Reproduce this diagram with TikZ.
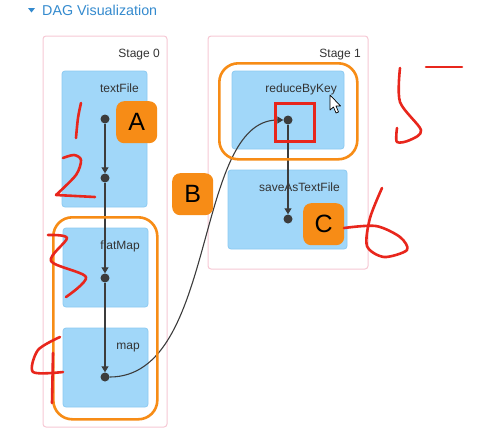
\documentclass[tikz,border=0pt]{standalone}
\usepackage{fontspec}
\setmainfont{Liberation Sans}
\usetikzlibrary{arrows.meta}
\definecolor{boxblue}{RGB}{161,215,249}
\definecolor{boxedge}{RGB}{140,202,242}
\definecolor{stagepink}{RGB}{246,200,212}
\definecolor{orng}{RGB}{247,140,22}
\definecolor{redpen}{RGB}{232,38,28}
\definecolor{titleblue}{RGB}{52,138,206}
\definecolor{edgegray}{RGB}{60,60,60}
\tikzset{
  stagebox/.style={draw=stagepink, fill=white, line width=1pt, rounded corners=3pt, anchor=north west, inner sep=0pt, outer sep=0pt},
  opbox/.style={draw=boxedge, fill=boxblue, line width=0.8pt, rounded corners=3pt, anchor=north west, inner sep=0pt, outer sep=0pt},
  lbl/.style={anchor=base east, font=\fontsize{12}{14}\selectfont, text=black!80, inner sep=0pt},
  dot/.style={circle, fill=edgegray, draw=none, minimum size=9pt, inner sep=0pt},
  edge/.style={draw=edgegray, line width=1.1pt, -{Triangle[length=6pt,width=7pt]}},
  hilite/.style={draw=orng, line width=2.6pt, rounded corners=19pt, anchor=north west, inner sep=0pt},
  tag/.style={fill=orng, rounded corners=8pt, anchor=north west, inner sep=0pt, minimum width=41pt, minimum height=42pt, font=\fontsize{25}{28}\selectfont, text=black},
  pen/.style={draw=redpen, line width=2.6pt, line cap=round, line join=round}
}
\begin{document}
\begin{tikzpicture}[x=1pt, y=-1pt]
\useasboundingbox (0,0) rectangle (502,439);
% title
\fill[titleblue] (28,8) -- (35,8) -- (31.5,12.5) -- cycle;
\node[anchor=base west, inner sep=0pt, text=titleblue, font=\fontsize{14.3}{16}\selectfont] (title) at (42,15.5) {DAG Visualization};
% stages
\node[stagebox, minimum width=124pt, minimum height=391pt] (s0) at (43,36) {};
\node[stagebox, minimum width=160pt, minimum height=233pt] (s1) at (208,36) {};
\node[lbl] (s0l) at ([shift={(-7,21)}]s0.north east) {Stage 0};
\node[lbl] (s1l) at ([shift={(-7,21)}]s1.north east) {Stage 1};
% operation boxes
\node[opbox, minimum width=85pt, minimum height=136pt] (tf) at (62,71) {};
\node[opbox, minimum width=85pt, minimum height=79pt] (fm) at (63,228) {};
\node[opbox, minimum width=85pt, minimum height=79pt] (mp) at (63,328) {};
\node[opbox, minimum width=112pt, minimum height=78pt] (rk) at (232,71) {};
\node[opbox, minimum width=119pt, minimum height=79pt] (sv) at (228,170) {};
\node[lbl] (tfl) at ([shift={(-8,21)}]tf.north east) {textFile};
\node[lbl] (fml) at ([shift={(-8,21)}]fm.north east) {flatMap};
\node[lbl] (mpl) at ([shift={(-8,21)}]mp.north east) {map};
\node[lbl] (rkl) at ([shift={(-7,21)}]rk.north east) {reduceByKey};
\node[lbl] (svl) at ([shift={(-7,21)}]sv.north east) {saveAsTextFile};
% dots
\node[dot] (d1) at (105,119) {};
\node[dot] (d2) at (105,178) {};
\node[dot] (d3) at (105,278) {};
\node[dot] (d4) at (105,377) {};
\node[dot] (d5) at (288,120) {};
\node[dot] (d6) at (288,219) {};
% edges
\draw[edge] (d1) -- (d2);
\draw[edge] (d2) -- (d3);
\draw[edge] (d3) -- (d4);
\draw[edge] (d4) .. controls (218,377) and (193,120) .. (d5);
\draw[edge] (d5) -- (d6);
% highlights
\node[hilite, minimum width=104pt, minimum height=202pt] (h1) at (52,216) {};
\node[hilite, minimum width=138pt, minimum height=96pt] (h2) at (218,62) {};
\node[draw=redpen, line width=2.6pt, anchor=north west, inner sep=0pt, minimum width=39pt, minimum height=38pt] (sq) at (274,102) {};
% cursor
\draw[fill=white, draw=black, line width=0.7pt, line join=round] (330,95) -- (330,110) -- (333.5,107) -- (336,113) -- (338.5,112) -- (336,106) -- (340.5,106) -- cycle;
% tags
\node[tag] (tA) at (116,101) {A};
\node[tag] (tB) at (172,173) {B};
\node[tag] (tC) at (303,203) {C};
% handwritten numbers
\draw[pen] plot[smooth, tension=0.6] coordinates {(81,103) (78,118) (76,138)};
\draw[pen] plot[smooth, tension=0.5] coordinates {(63,158) (74,155) (81,160) (76,175) (56,195)} -- (95,197);
\draw[pen] plot[smooth, tension=0.5] coordinates {(48,235) (67,238) (51,261) (86,277) (66,297)};
\draw[pen] plot[smooth, tension=0.5] coordinates {(60,337) (38,350) (33,372) (63,372)};
\draw[pen] (53,353) -- (52,403);
\draw[pen] plot[smooth, tension=0.5] coordinates {(400,68) (400,102) (421,130) (410,140) (397,142) (397,128)};
\draw[pen] (426,67) -- (462,67);
\draw[pen] plot[smooth, tension=0.5] coordinates {(344,228) (376,226) (400,237) (407,250) (384,257) (367,246) (370,218) (382,188)};
\end{tikzpicture}
\end{document}
